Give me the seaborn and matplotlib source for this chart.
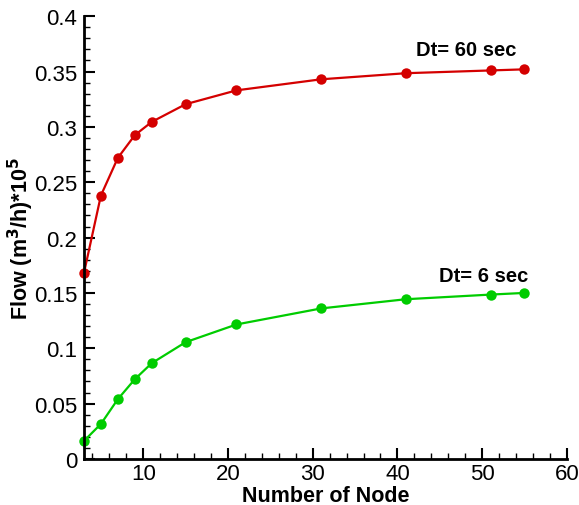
import matplotlib
matplotlib.use("Agg")
import matplotlib.pyplot as plt
import seaborn as sns
import pandas as pd
from matplotlib.ticker import MultipleLocator

nodes = [3, 5, 7, 9, 11, 15, 21, 31, 41, 51, 55]
flow_60 = [0.168, 0.238, 0.272, 0.2925, 0.3045, 0.3205, 0.333, 0.343, 0.3485, 0.351, 0.352]
flow_6 = [0.0163, 0.0316, 0.054, 0.072, 0.0865, 0.1055, 0.1215, 0.136, 0.1443, 0.1485, 0.150]
labels = ["Dt= 60 sec", "Dt= 6 sec"]

sns.set_style("ticks")
plt.rcParams['font.family'] = ['Liberation Sans', 'DejaVu Sans']
plt.rcParams['mathtext.default'] = 'bf'
plt.rcParams['text.color'] = 'black'
plt.rcParams['axes.labelcolor'] = 'black'
plt.rcParams['xtick.color'] = 'black'
plt.rcParams['ytick.color'] = 'black'
plt.rcParams['axes.edgecolor'] = 'black'

fig = plt.figure(figsize=(5.79, 5.06), dpi=100)
ax = fig.add_axes([0.145, 0.091, 0.834, 0.875])

df = pd.DataFrame({"x": nodes * 2, "y": flow_60 + flow_6,
                   "s": [labels[0]] * len(nodes) + [labels[1]] * len(nodes)})
sns.lineplot(data=df, x="x", y="y", hue="s", palette=["#d40000", "#00cc00"],
             marker="o", markersize=7.5, markeredgewidth=0, linewidth=1.6,
             legend=False, ax=ax, clip_on=False)

ax.set_xlim(3, 60)
ax.set_ylim(0, 0.4)
ax.xaxis.set_minor_locator(MultipleLocator(2))
ax.yaxis.set_minor_locator(MultipleLocator(0.01))
ax.set_yticks([0, 0.05, 0.1, 0.15, 0.2, 0.25, 0.3, 0.35, 0.4])
ax.set_yticklabels(["0", "0.05", "0.1", "0.15", "0.2", "0.25", "0.3", "0.35", "0.4"])
ax.set_xticks([10, 20, 30, 40, 50, 60])
ax.set_xticklabels(["10", "20", "30", "40", "50", "60"])

for sp in ["top", "right"]:
    ax.spines[sp].set_visible(False)
for sp in ["left", "bottom"]:
    ax.spines[sp].set_linewidth(2)
ax.tick_params(which="major", direction="in", length=8, width=1.5, labelsize=16)
ax.tick_params(axis="x", which="major", pad=3)
ax.tick_params(axis="y", which="major", pad=5)
ax.tick_params(which="minor", direction="in", length=4, width=1)

ax.set_xlabel("Number of Node", fontsize=15.5, fontweight="bold")
ax.xaxis.set_label_coords(0.5, -0.059)
ax.set_ylabel("Flow (m$^3$/h)*10$^5$", fontsize=15.5, fontweight="bold", va="center")
ax.yaxis.set_label_coords(-0.13, 0.5)

ax.text(54.1, 0.365, labels[0], fontsize=14.5, fontweight="bold", ha="right", va="baseline")
ax.text(55.4, 0.161, labels[1], fontsize=14.5, fontweight="bold", ha="right", va="baseline")

fig.savefig("out.png", dpi=100)
